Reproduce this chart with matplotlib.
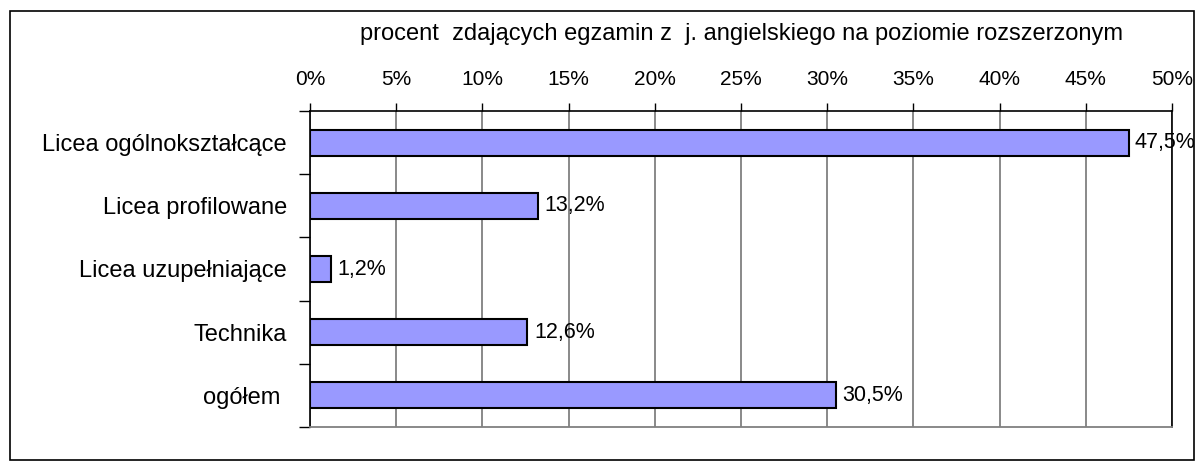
import matplotlib
matplotlib.use("Agg")
import matplotlib.pyplot as plt
from matplotlib.patches import Rectangle
from matplotlib.transforms import blended_transform_factory
import numpy as np

categories = ["Licea ogólnokształcące", "Licea profilowane", "Licea uzupełniające", "Technika", "ogółem "]
values = [47.5, 13.2, 1.2, 12.6, 30.5]
value_labels = ["47,5%", "13,2%", "1,2%", "12,6%", "30,5%"]
xticks = [0, 5, 10, 15, 20, 25, 30, 35, 40, 45, 50]
xtick_labels = [f"{t}%" for t in xticks]
title = "procent  zdających egzamin z  j. angielskiego na poziomie rozszerzonym"

plt.rcParams['font.family'] = ['Liberation Sans', 'DejaVu Sans']

W, H = 1198, 463
fig = plt.figure(figsize=(W / 100, H / 100), dpi=100)
fig.patch.set_facecolor("white")

# outer border
fig.add_artist(Rectangle((10 / W, 1 - 460 / H), (1194 - 10) / W, (460 - 11) / H,
                         transform=fig.transFigure, fill=False, edgecolor="black", lw=1.2))

left, right, top, bottom = 310, 1172, 111, 427
ax = fig.add_axes([left / W, 1 - bottom / H, (right - left) / W, (bottom - top) / H])

n = len(categories)
y = np.arange(n)
ax.barh(y, values, height=0.41, color="#9999FF", edgecolor="black", linewidth=1.5, zorder=3)
edge_tr = blended_transform_factory(fig.transFigure, ax.transData)
for yi, v, lab in zip(y, values, value_labels):
    if v > 45:
        ax.text(1195 / W, yi, lab, va="center", ha="right", fontsize=15.5, zorder=4,
                transform=edge_tr)
    else:
        ax.text(v + 0.4, yi, lab, va="center", ha="left", fontsize=15.5, zorder=4)

ax.set_xlim(0, 50)
ax.set_ylim(n - 0.5, -0.5)
ax.xaxis.tick_top()
ax.set_xticks(xticks)
ax.set_xticklabels(xtick_labels, fontsize=15)
ax.tick_params(axis="x", which="major", direction="out", length=6, width=1, pad=10, color="black")
ax.grid(axis="x", color="#808080", lw=1.3, zorder=0)

# category labels (no ticks at centers), separator ticks at boundaries
ax.set_yticks(y)
ax.set_yticklabels(categories, fontsize=17)
ax.tick_params(axis="y", which="major", length=0, pad=16.5)
ax.set_yticks(np.arange(-0.5, n + 0.5, 1), minor=True)
ax.tick_params(axis="y", which="minor", direction="out", length=8, width=1, color="black")

for s in ["top", "left", "right"]:
    ax.spines[s].set_color("black")
    ax.spines[s].set_linewidth(1.2)
ax.spines["bottom"].set_color("#808080")
ax.spines["bottom"].set_linewidth(1.3)

fig.text((left + right) / 2 / W, 1 - 34 / H, title, ha="center", va="center", fontsize=17)

fig.savefig("out.png", dpi=100, facecolor="white")
